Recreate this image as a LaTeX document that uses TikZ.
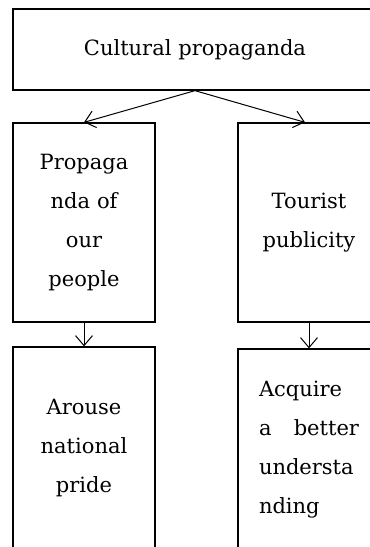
\documentclass[tikz,border=0pt]{standalone}
\usepackage{fontspec}
\setmainfont{DejaVu Serif}
\usetikzlibrary{arrows.meta}

\tikzset{
block/.style={
  rectangle,
  draw,
  line width=1.3pt,
  text centered,
  text width=126pt,
  align=center,
  inner sep=0pt,
  font=\fontsize{21}{39}\selectfont,
},
}

\begin{document}
\begin{tikzpicture}[x=1pt, y=-1pt, >={Straight Barb[length=10pt,width=17pt,line width=1pt]}]
\useasboundingbox (0,0) rectangle (370,547);
%top block
\node[block, minimum width=364pt, minimum height=81pt, text width=300pt](culture) at (195,49.5) {Cultural propaganda};
%middle row
\node[block, minimum width=142pt, minimum height=199pt](people) at (84,222.5) {Propaga\\nda of\\our\\people};
\node[block, minimum width=142pt, minimum height=199pt](tourist) at (309,222.5) {Tourist\\publicity};
%bottom row
\node[block, minimum width=142pt, minimum height=202pt](pride) at (84,448) {Arouse\\national\\pride};
\node[block, minimum width=142pt, minimum height=202pt, text width=100pt, align=left](understand) at (309,450) {Acquire\\a\hfill better\\understa\\nding};

\draw[->, line width=1pt](culture.south) -- (people.north);
\draw[->, line width=1pt](culture.south) -- ([xshift=-4pt]tourist.north);
\draw[->, line width=1pt](people) -- (pride);
\draw[->, line width=1pt](tourist) -- (understand);

\end{tikzpicture}
\end{document}
